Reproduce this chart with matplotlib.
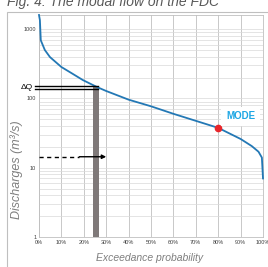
import matplotlib
matplotlib.use("Agg")
import matplotlib.pyplot as plt
import matplotlib.patches as mpatches
from matplotlib.ticker import FixedLocator, LogLocator, NullFormatter

# flow duration curve
exceed = [0, 0.4, 0.8, 2.6, 4.9, 10, 14.5, 19.6, 25.9, 30, 40, 50, 60, 70, 80, 90, 95, 98, 99.5, 100]
flow = [1600, 1350, 690, 500, 395, 284, 232, 184, 146, 128, 96, 77, 60, 47.5, 37.6, 26, 20.5, 17, 14, 7]

mode_x, mode_q = 80, 37.6
bar_x0, bar_x1, bar_top = 24, 27, 146
dq_levels = [150, 137]
arrow_q = 14.4
x_ticks = list(range(0, 101, 10))
x_labels = [f"{t}%" for t in x_ticks]
y_ticks = [1, 10, 100, 1000]

plt.rcParams['font.family'] = ['Liberation Sans', 'DejaVu Sans']

W, H = 268, 267
fig = plt.figure(figsize=(W / 100, H / 100), dpi=100)
ax = fig.add_axes([39 / W, 1 - 237 / H, 224 / W, 222 / H])

ax.set_yscale('log')
ax.set_xlim(0, 100)
ax.set_ylim(1, 1600)

# grid
ax.xaxis.set_major_locator(FixedLocator(x_ticks))
ax.yaxis.set_major_locator(FixedLocator(y_ticks))
ax.yaxis.set_minor_locator(LogLocator(base=10, subs=range(2, 10)))
ax.yaxis.set_minor_formatter(NullFormatter())
ax.set_xticklabels(x_labels)
ax.set_yticklabels([str(t) for t in y_ticks])
ax.grid(True, which='major', axis='x', color='#bfbfbf', lw=0.6)
ax.grid(True, which='both', axis='y', color='#d9d9d9', lw=0.5)
ax.tick_params(which='both', length=0, labelsize=4, colors='#404040', pad=2)
for s in ax.spines.values():
    s.set_color('#bfbfbf')
    s.set_linewidth(0.6)

# gray bar
ax.add_patch(mpatches.Rectangle((bar_x0, 1), bar_x1 - bar_x0, bar_top - 1,
                                facecolor='#7f7979', edgecolor='none', zorder=2))

# curve
ax.plot(exceed, flow, color='#2378b5', lw=1.3, zorder=3, clip_on=False)
ax.plot([mode_x], [mode_q], 'o', color='#e8262b', ms=4.5, zorder=4)

# delta Q lines (reach outside axes on the left)
for q in dq_levels:
    ax.plot([-2, bar_x1 - 0.5], [q, q], color='black', lw=1.0, zorder=3, clip_on=False)
ax.text(-5.5, 144, "ΔQ", fontsize=6, ha='center', va='center', color='black')

# dashed arrow
ax.plot([0, 18], [arrow_q, arrow_q], color='black', lw=1.0, ls=(0, (3, 2.5)), zorder=3)
ax.annotate('', xy=(30, arrow_q), xytext=(18, arrow_q),
            arrowprops=dict(arrowstyle='-|>', color='black', lw=1.0,
                            mutation_scale=6, shrinkA=0, shrinkB=0), zorder=3)

# MODE label
ax.text(90, 55, "MODE", fontsize=7, fontweight='bold', color='#1ea7e4',
        ha='center', va='center', zorder=5, clip_on=False,
        bbox=dict(facecolor='white', edgecolor='none', pad=3.5))

# labels
fig.text(17 / W, 1 - 170 / H, "Discharges (m³/s)", rotation=90, fontsize=9,
         style='italic', color='#7f7f7f', ha='center', va='center')
fig.text(150 / W, 1 - 258 / H, "Exceedance probability", fontsize=7.5,
         style='italic', color='#7f7f7f', ha='center', va='center')
fig.text(7 / W, 1 - 6 / H, "Fig. 4: The modal flow on the FDC", fontsize=10,
         style='italic', color='#595959', ha='left', va='baseline')

# outer frame
fig.patches.append(mpatches.Rectangle((7 / W, -0.1), 2, 1.1 - 12 / H, transform=fig.transFigure,
                                      facecolor='none', edgecolor='#bfbfbf', lw=0.8))

fig.savefig("out.png", dpi=100)
